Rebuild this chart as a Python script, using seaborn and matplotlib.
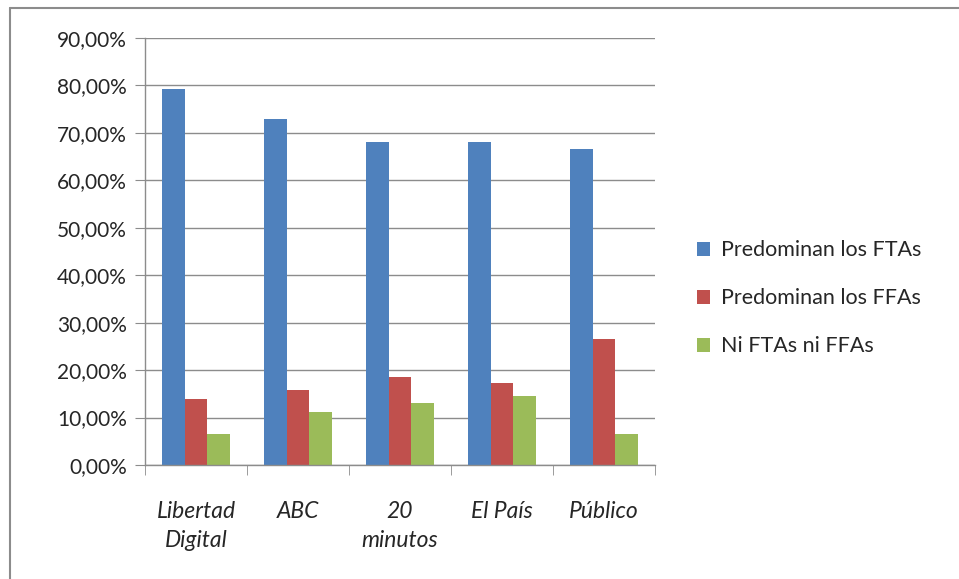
import numpy as np
import pandas as pd
import matplotlib.pyplot as plt
import seaborn as sns
from matplotlib.lines import Line2D
from matplotlib.ticker import FuncFormatter, FixedLocator

medios = ["Libertad\nDigital", "ABC", "20\nminutos", "El País", "Público"]
series = ["Predominan los FTAs", "Predominan los FFAs", "Ni FTAs ni FFAs"]
ftas = [79.3, 72.9, 68.0, 68.0, 66.6]
ffas = [13.9, 15.8, 18.5, 17.2, 26.6]
ninguno = [6.6, 11.2, 13.1, 14.5, 6.6]
colores = ["#4F81BD", "#C0504D", "#9BBB59"]

df = pd.DataFrame({
    "medio": medios * 3,
    "serie": np.repeat(series, len(medios)),
    "valor": ftas + ffas + ninguno,
})

sns.set_style("white")
plt.rcParams["font.family"] = ["Lato", "DejaVu Sans"]

fig = plt.figure(figsize=(9.59, 5.79), dpi=100)
ax = fig.add_axes([145 / 959, 1 - 465 / 579, 510 / 959, 427 / 579])

sns.barplot(data=df, x="medio", y="valor", hue="serie", palette=colores,
            width=0.67, ax=ax, saturation=1, edgecolor="none")

ax.set_ylim(0, 90)
ax.set_xlim(-0.5, 4.5)
ax.set_yticks(np.arange(0, 91, 10))
ax.yaxis.set_major_formatter(FuncFormatter(lambda v, p: f"{v:.2f}%".replace(".", ",")))
ax.yaxis.grid(True, color="#8c8c8c", linewidth=1)
ax.set_axisbelow(True)
ax.set_xlabel("")
ax.set_ylabel("")

for s in ["top", "right"]:
    ax.spines[s].set_visible(False)
for s in ["left", "bottom"]:
    ax.spines[s].set_color("#8c8c8c")
    ax.spines[s].set_linewidth(1)

ax.tick_params(axis="y", length=7, color="#8c8c8c", labelsize=15, pad=6, left=True)
ax.tick_params(axis="x", which="major", length=0, labelsize=16.5, pad=26)
ax.xaxis.set_minor_locator(FixedLocator(np.arange(-0.5, 5, 1)))
ax.tick_params(axis="x", which="minor", length=7, color="#8c8c8c", bottom=True)
for lab in ax.get_xticklabels():
    lab.set_fontstyle("italic")
    lab.set_linespacing(1.45)

ax.legend(loc="center left", bbox_to_anchor=(1.045, 0.39), frameon=False,
          fontsize=15.5, handlelength=0.6, handleheight=0.6, handletextpad=0.5,
          labelspacing=1.3)

fig.add_artist(Line2D([10 / 959, 10 / 959], [0, 1 - 8 / 579], color="#8c8c8c", lw=1.5))
fig.add_artist(Line2D([10 / 959, 1], [1 - 8 / 579, 1 - 8 / 579], color="#8c8c8c", lw=1.5))

fig.savefig("out.png", dpi=100)
